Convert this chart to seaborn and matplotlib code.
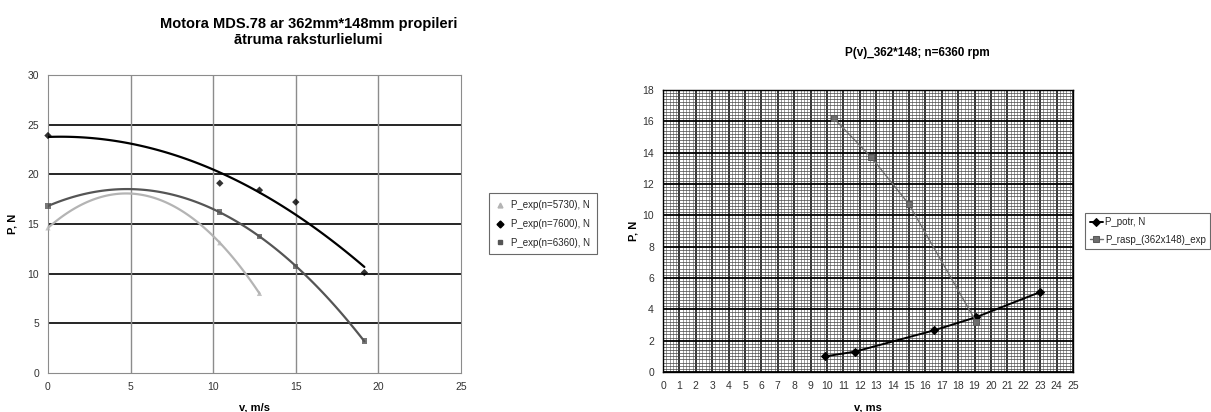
import numpy as np
import matplotlib
matplotlib.use('Agg')
import matplotlib.pyplot as plt
import seaborn as sns
from matplotlib.lines import Line2D
from matplotlib.ticker import MultipleLocator

sns.set_style('white')
plt.rcParams['font.family'] = ['Liberation Sans', 'DejaVu Sans']

# Left chart data: speed vs thrust for three rpm values
v_5730 = [0, 10.4, 12.8]
p_5730 = [14.6, 13.1, 8.0]
v_7600 = [0, 10.4, 12.8, 15.0, 19.15]
p_7600 = [23.9, 19.1, 18.4, 17.2, 10.1]
v_6360 = [0, 10.4, 12.8, 15.0, 19.15]
p_6360 = [16.8, 16.2, 13.75, 10.7, 3.2]

# Right chart data
v_potr = [9.9, 11.7, 16.5, 19.1, 23.0]
p_potr = [1.0, 1.3, 2.65, 3.5, 5.1]
v_rasp = [10.4, 12.7, 15.0, 19.1]
p_rasp = [16.2, 13.7, 10.7, 3.2]

fig = plt.figure(figsize=(12.11, 4.12), dpi=100)

# ---------- left chart ----------
ax1 = fig.add_axes([0.0396, 0.095, 0.3411, 0.723])
series = [
    (v_5730, p_5730, '#b4b4b4', '^', 'P_exp(n=5730), N'),
    (v_7600, p_7600, '#000000', 'D', 'P_exp(n=7600), N'),
    (v_6360, p_6360, '#555555', 's', 'P_exp(n=6360), N'),
]
for vx, py, col, mk, lab in series:
    sns.regplot(x=np.array(vx), y=np.array(py), order=2, ci=None, ax=ax1,
                color=col, marker=mk, label=lab,
                scatter_kws={'s': 14, 'edgecolors': 'none', 'zorder': 4,
                             'clip_on': False},
                line_kws={'lw': 1.6, 'zorder': 3})
ax1.set_xlim(0, 25)
ax1.set_ylim(0, 30)
ax1.set_xticks(range(0, 26, 5))
ax1.set_yticks(range(0, 31, 5))
ax1.grid(False)
for yv in range(5, 30, 5):
    ax1.axhline(yv, color='black', lw=1.2, zorder=1)
for xv in range(5, 25, 5):
    ax1.axvline(xv, color='#8c8c8c', lw=1.0, zorder=1)
for s in ax1.spines.values():
    s.set_color('#8c8c8c')
ax1.tick_params(direction='out', length=3, labelsize=7.5, colors='#555555',
                labelcolor='#333333')
ax1.set_xlabel('v, m/s', fontsize=8, fontweight='bold', labelpad=8,
               color='black')
ax1.set_ylabel('P, N', fontsize=8, fontweight='bold', labelpad=7,
               color='black')
ax1.set_title('Motora MDS.78 ar 362mm*148mm propileri\nātruma raksturlielumi',
              fontsize=10.5, fontweight='bold', pad=22, x=0.63,
              linespacing=1.25, color='black')
handles1 = [Line2D([], [], ls='none', marker=mk, color=col, markersize=3.5,
                   label=lab) for _, _, col, mk, lab in series]
leg1 = ax1.legend(handles=handles1, loc='center left',
                  bbox_to_anchor=(1.055, 0.5), fontsize=7, frameon=True,
                  fancybox=False, handletextpad=0.6, borderpad=0.7,
                  labelspacing=0.9, handlelength=1.0)
leg1.get_frame().set_edgecolor('#444444')
leg1.get_frame().set_linewidth(0.8)

# ---------- right chart ----------
ax2 = fig.add_axes([0.5475, 0.097, 0.3385, 0.685])
sns.lineplot(x=v_potr, y=p_potr, ax=ax2, color='black', lw=1.4, marker='D',
             markersize=4, markeredgecolor='black', zorder=5,
             label='P_potr, N')
sns.lineplot(x=v_rasp, y=p_rasp, ax=ax2, color='#6e6e6e', lw=1.0, marker='s',
             markersize=5, markeredgecolor='#5a5a5a',
             markerfacecolor='#6e6e6e', zorder=5,
             label='P_rasp_(362x148)_exp')
ax2.set_xlim(0, 25)
ax2.set_ylim(0, 18)
ax2.xaxis.set_major_locator(MultipleLocator(1))
ax2.yaxis.set_major_locator(MultipleLocator(2))
ax2.xaxis.set_minor_locator(MultipleLocator(0.2))
ax2.yaxis.set_minor_locator(MultipleLocator(0.2))
ax2.grid(which='minor', axis='x', color='#9a9a9a', lw=0.7, zorder=1)
ax2.grid(which='minor', axis='y', color='#444444', lw=0.5, zorder=1)
ax2.grid(which='major', axis='x', color='black', lw=1.1, zorder=2)
ax2.grid(which='major', axis='y', color='black', lw=1.3, zorder=2)
ax2.set_axisbelow(True)
for s in ax2.spines.values():
    s.set_color('black')
    s.set_linewidth(1.0)
ax2.tick_params(which='major', direction='out', length=3, labelsize=7.5,
                colors='#222222', labelcolor='#333333')
ax2.tick_params(which='minor', length=0)
ax2.set_xlabel('v, ms', fontsize=8, fontweight='bold', labelpad=8,
               color='black')
ax2.set_ylabel('P, N', fontsize=8, fontweight='bold', labelpad=3,
               color='black')
ax2.set_title('P(v)_362*148; n=6360 rpm', fontsize=8.5, fontweight='bold',
              pad=24, x=0.62, color='black')
leg2 = ax2.legend(loc='center left', bbox_to_anchor=(1.03, 0.5),
                  fontsize=7, frameon=True, fancybox=False,
                  handletextpad=0.2, borderpad=0.45, labelspacing=0.8,
                  handlelength=1.4, borderaxespad=0)
leg2.get_frame().set_edgecolor('#444444')
leg2.get_frame().set_linewidth(0.8)

fig.savefig('out.png', dpi=100)
